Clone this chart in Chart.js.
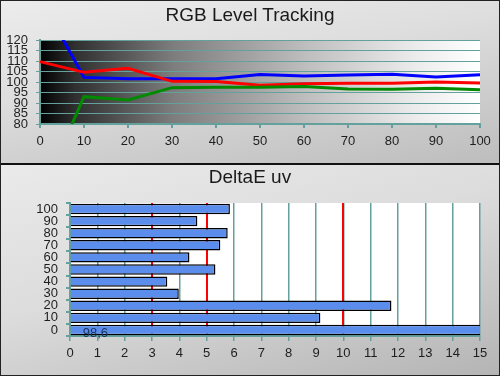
<!DOCTYPE html>
<html>
<head>
<meta charset="utf-8">
<script src="https://cdn.jsdelivr.net/npm/chart.js@4/dist/chart.umd.min.js"></script>
<style>
  html, body { margin: 0; padding: 0; background: #fff; }
  #wrap { position: relative; width: 500px; height: 376px; overflow: hidden; font-family: Arial, "Liberation Sans", sans-serif; }
  #p1 { position: absolute; left: 0; top: 0; width: 500px; height: 163px;
        background: linear-gradient(170deg, #ececec 0%, #dedede 40%, #bdbdbd 100%); }
  #div { position: absolute; left: 0; top: 163px; width: 500px; height: 2px; background: #111; }
  #p2 { position: absolute; left: 0; top: 165px; width: 500px; height: 211px;
        background: linear-gradient(165deg, #eaeaea 0%, #dcdcdc 45%, #b4b4b4 100%); }
  #frame { position: absolute; left: 0; top: 0; width: 500px; height: 376px; box-sizing: border-box; border: 1px solid #222; pointer-events: none; z-index: 5; }
  canvas { position: absolute; left: 0; }
  #c1 { top: 0; }
  #c2 { top: 164px; }
  .title { position: absolute; left: 0; width: 500px; text-align: center; font-size: 19px; line-height: 19px; color: #1a1a1a; z-index: 3; }
</style>
</head>
<body>
<div id="wrap">
  <div id="p1"></div>
  <div id="div"></div>
  <div id="p2"></div>
  <div class="title" style="top:5px">RGB Level Tracking</div>
  <div class="title" style="top:167px">DeltaE uv</div>
  <canvas id="c1" width="500" height="163"></canvas>
  <canvas id="c2" width="500" height="212"></canvas>
  <div id="frame"></div>
</div>
<script>
// ---- data: RGB Level Tracking ----
const levels = ['0','10','20','30','40','50','60','70','80','90','100'];
const redLevels   = [109.7, 104.6, 106.5, 100.3, 100.2, 98.4, 99.2, 99.4, 99.4, 100.0, 99.5];
const greenLevels = [45, 93.0, 91.4, 97.3, 97.5, 97.5, 97.8, 96.7, 96.6, 97.0, 96.3];
const blueLevels  = [140, 102.2, 101.6, 101.5, 101.5, 103.6, 102.9, 103.3, 103.7, 102.4, 103.5];
const rgbTicks = { min: 80, max: 120, step: 5 };

// ---- data: DeltaE uv ----
const deltaCategories = ['0','10','20','30','40','50','60','70','80','90','100'];
const deltaValues = [98.6, 9.16, 11.76, 3.98, 3.56, 5.32, 4.37, 5.5, 5.77, 4.66, 5.85];
const deltaTicks = { min: 0, max: 15, step: 1 };
const deltaLimits = [3, 5, 10];

const FONT = 'Arial, "Liberation Sans", sans-serif';
const TEAL = '#64a09c';
Chart.defaults.font.family = FONT;
Chart.defaults.color = '#1e1e1e';

const plotBg1 = {
  id: 'plotBg1',
  beforeDraw(chart) {
    const a = chart.chartArea, c = chart.ctx;
    const g = c.createLinearGradient(a.left, 0, a.right, 0);
    g.addColorStop(0, '#000000');
    g.addColorStop(0.08, '#303030');
    g.addColorStop(0.3, '#7c7c7c');
    g.addColorStop(0.6, '#bdbdbd');
    g.addColorStop(0.85, '#ebebeb');
    g.addColorStop(1, '#ffffff');
    c.save(); c.fillStyle = g; c.fillRect(a.left, a.top, a.right - a.left, a.bottom - a.top); c.restore();
  }
};

new Chart(document.getElementById('c1'), {
  type: 'line',
  data: {
    labels: levels,
    datasets: [
      { data: greenLevels, borderColor: '#008a00', borderWidth: 3, pointRadius: 0, tension: 0 },
      { data: redLevels, borderColor: '#ff0000', borderWidth: 3, pointRadius: 0, tension: 0 },
      { data: blueLevels, borderColor: '#0000ff', borderWidth: 3, pointRadius: 0, tension: 0 }
    ]
  },
  options: {
    responsive: false, animation: false, devicePixelRatio: 1,
    layout: { padding: { top: 40, right: 20, left: 0, bottom: 0 } },
    plugins: { legend: { display: false }, tooltip: { enabled: false } },
    scales: {
      x: {
        type: 'category', offset: false,
        grid: { drawOnChartArea: false, drawTicks: true, tickLength: 4, color: TEAL, lineWidth: 2 },
        border: { color: TEAL, width: 2 },
        ticks: { padding: 6, font: { size: 13 }, maxRotation: 0, autoSkip: false },
        afterFit(s) { s.height = 39; }
      },
      y: {
        min: rgbTicks.min, max: rgbTicks.max,
        grid: { color: TEAL, lineWidth: 1, tickLength: 4, tickColor: TEAL },
        border: { color: TEAL, width: 2 },
        ticks: { stepSize: rgbTicks.step, padding: 8, font: { size: 13 }, autoSkip: false },
        afterFit(s) { s.width = 40; }
      }
    }
  },
  plugins: [plotBg1]
});

const plotBg2 = {
  id: 'plotBg2',
  beforeDraw(chart) {
    const a = chart.chartArea, c = chart.ctx;
    c.save(); c.fillStyle = '#ffffff'; c.fillRect(a.left, a.top, a.right - a.left, a.bottom - a.top); c.restore();
  }
};
const valueLabel = {
  id: 'valueLabel',
  afterDatasetsDraw(chart) {
    const meta = chart.getDatasetMeta(0);
    const i = 0;
    const el = meta.data[i];
    const c = chart.ctx;
    c.save();
    c.font = '13px ' + FONT;
    c.fillStyle = '#1d3560';
    c.textAlign = 'left';
    c.textBaseline = 'middle';
    c.fillText(String(deltaValues[i]).replace('.', ','), el.base + 12, el.y + 3);
    c.restore();
  }
};

new Chart(document.getElementById('c2'), {
  type: 'bar',
  data: {
    labels: deltaCategories,
    datasets: [{
      data: deltaValues,
      backgroundColor: '#5b8eec',
      borderColor: '#000000',
      borderWidth: 1.5,
      borderSkipped: 'start',
      categoryPercentage: 1,
      barPercentage: 0.86
    }]
  },
  options: {
    indexAxis: 'y',
    responsive: false, animation: false, devicePixelRatio: 1,
    layout: { padding: { top: 39, right: 20, left: 0, bottom: 0 } },
    plugins: { legend: { display: false }, tooltip: { enabled: false } },
    scales: {
      x: {
        min: deltaTicks.min, max: deltaTicks.max,
        grid: { color: TEAL, tickColor: TEAL, lineWidth: 1.5, tickLength: 5 },
        border: { color: TEAL, width: 2 },
        ticks: { stepSize: deltaTicks.step, padding: 5, font: { size: 13 }, maxRotation: 0, autoSkip: false },
        afterFit(s) { s.height = 40; }
      },
      limits: {
        type: 'linear', axis: 'x', position: 'top',
        min: deltaTicks.min, max: deltaTicks.max, z: 1,
        afterBuildTicks(s) { s.ticks = deltaLimits.map(v => ({ value: v })); },
        grid: { color: '#ff0000', lineWidth: 2, drawTicks: false },
        border: { display: false },
        ticks: { display: false },
        afterFit(s) { s.height = 0; }
      },
      y: {
        reverse: true,
        grid: { drawOnChartArea: false, drawTicks: true, tickLength: 4, color: TEAL, lineWidth: 2, offset: true },
        border: { color: TEAL, width: 2 },
        ticks: { padding: 8, font: { size: 13 }, autoSkip: false },
        afterFit(s) { s.width = 70; }
      }
    }
  },
  plugins: [plotBg2, valueLabel]
});
</script>
</body>
</html>
